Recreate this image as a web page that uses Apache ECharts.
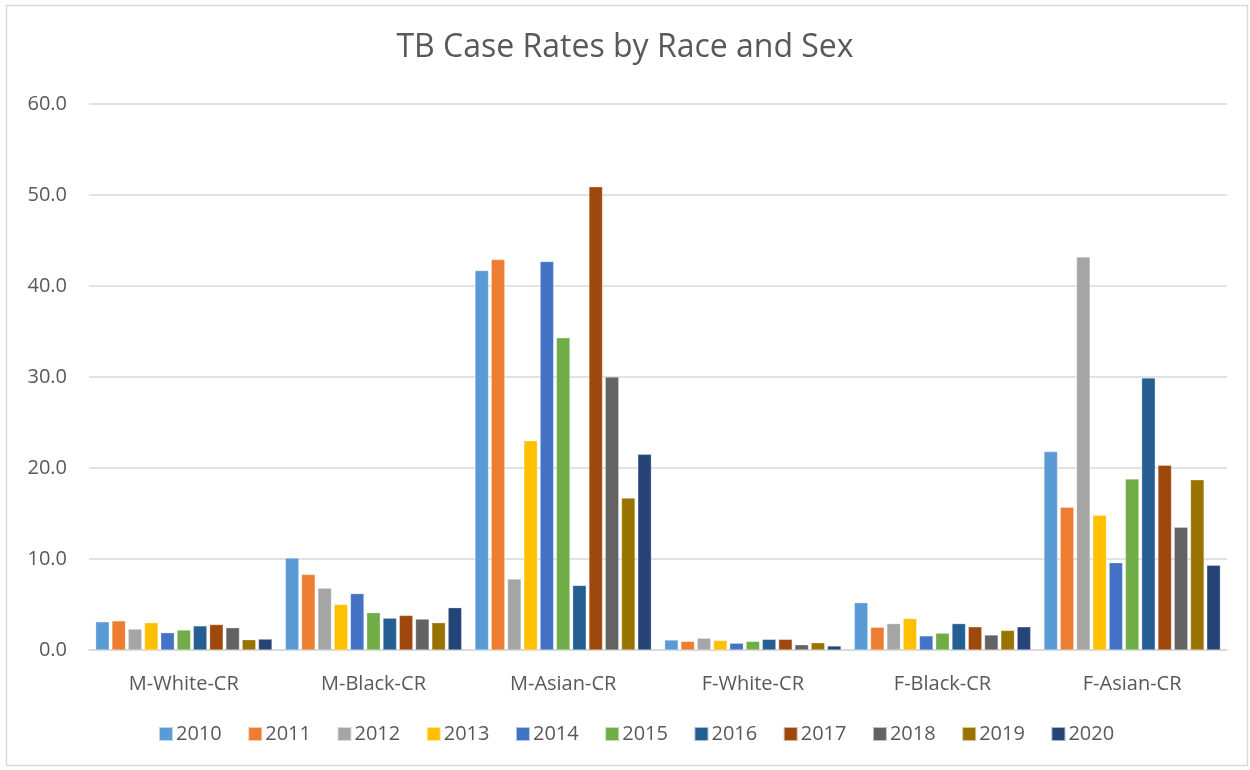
<!DOCTYPE html>
<html><head><meta charset="utf-8">
<script src="https://cdn.jsdelivr.net/npm/echarts@6/dist/echarts.min.js"></script>
<style>html,body{margin:0;padding:0;background:#fff}#c{width:1250px;height:770px}</style>
</head><body><div id="c"></div>
<script>
const categories = ['M-White-CR','M-Black-CR','M-Asian-CR','F-White-CR','F-Black-CR','F-Asian-CR'];
const years = ['2010','2011','2012','2013','2014','2015','2016','2017','2018','2019','2020'];
const yTicks = [0,10,20,30,40,50,60];
const v2010 = [3.1, 10.1, 41.7, 1.1, 5.2, 21.8];
const v2011 = [3.2, 8.3, 42.9, 0.95, 2.5, 15.7];
const v2012 = [2.3, 6.8, 7.8, 1.3, 2.9, 43.2];
const v2013 = [3.0, 5.0, 23.0, 1.05, 3.45, 14.8];
const v2014 = [1.9, 6.2, 42.7, 0.75, 1.55, 9.6];
const v2015 = [2.2, 4.1, 34.3, 0.95, 1.85, 18.8];
const v2016 = [2.65, 3.5, 7.1, 1.17, 2.9, 29.9];
const v2017 = [2.8, 3.8, 50.9, 1.17, 2.55, 20.3];
const v2018 = [2.45, 3.4, 30.0, 0.58, 1.65, 13.5];
const v2019 = [1.13, 3.0, 16.7, 0.8, 2.15, 18.7];
const v2020 = [1.2, 4.65, 21.5, 0.44, 2.55, 9.3];
const seriesValues = [v2010,v2011,v2012,v2013,v2014,v2015,v2016,v2017,v2018,v2019,v2020];
const colors = ['#5B9BD5','#ED7D31','#A5A5A5','#FFC000','#4472C4','#70AD47','#255E91','#9E480E','#636363','#997300','#264478'];

const FONT = 'Open Sans';
const chart = echarts.init(document.getElementById('c'), null, {renderer:'canvas'});
chart.setOption({
  animation:false,
  color: colors,
  textStyle:{fontFamily:FONT, color:'#595959'},
  title:{text:'TB Case Rates by Race and Sex', left:'center', top:27,
    textStyle:{fontFamily:FONT, fontSize:32, fontWeight:'normal', color:'#595959'}},
  graphic:[{type:'rect', shape:{x:6.5,y:5.5,width:1241,height:760}, style:{fill:'none', stroke:'#d9d9d9', lineWidth:1.5}, silent:true}],
  legend:{bottom:21, left:153, itemWidth:14, itemHeight:14, itemGap:25.5, icon:'rect',
    textStyle:{fontFamily:FONT, fontSize:20, color:'#595959', padding:[0,0,0,-2]}, data: years},
  grid:{left:89, right:23, top:104, bottom:120, containLabel:false},
  xAxis:{type:'category', data:categories,
    axisLine:{lineStyle:{color:'#d9d9d9', width:1.5}}, axisTick:{show:false},
    axisLabel:{fontFamily:FONT, fontSize:20, color:'#595959', margin:24}},
  yAxis:{type:'value', min:0, max:60, interval:10,
    axisLine:{show:false}, axisTick:{show:false},
    splitLine:{lineStyle:{color:'#d9d9d9', width:1.5}},
    axisLabel:{fontFamily:FONT, fontSize:20, color:'#595959', margin:22, formatter:v=>v.toFixed(1)}},
  series: years.map((y,i)=>({name:y, type:'bar', data:seriesValues[i],
    barGap:'20%', barCategoryGap:'7%',
    itemStyle:{color:colors[i], borderColor:'rgba(255,255,255,0.6)', borderWidth:0.5}}))
});
</script></body></html>
